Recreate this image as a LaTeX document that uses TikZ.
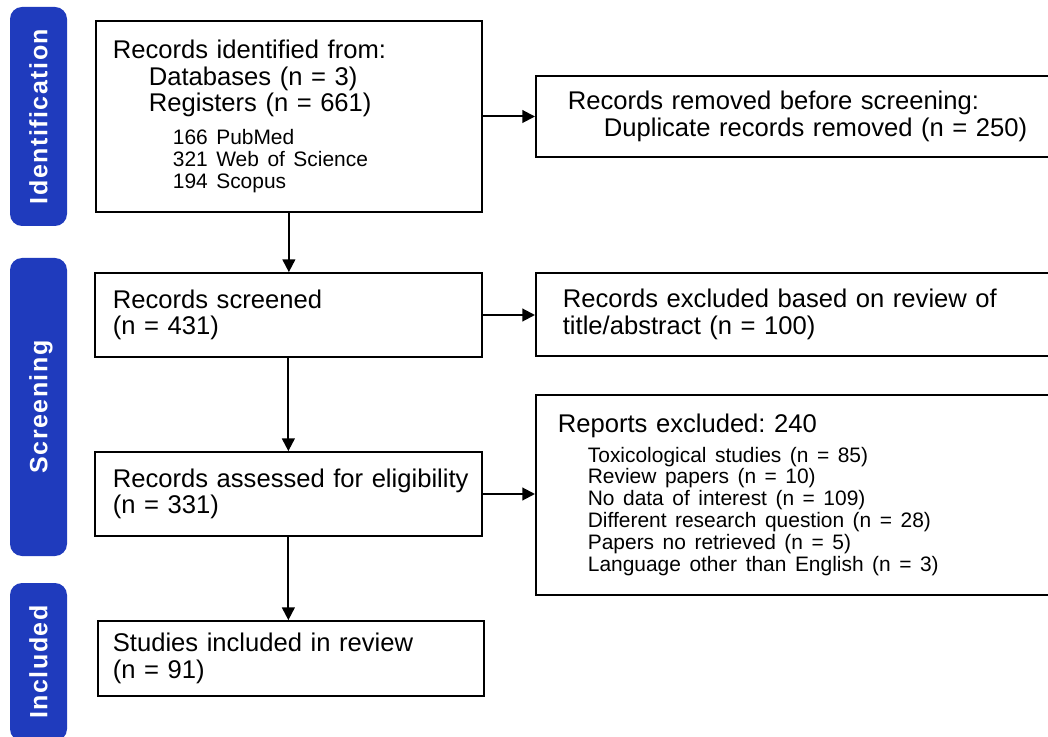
\documentclass[tikz,border=0pt]{standalone}
\usepackage{fontspec}
\setmainfont{Liberation Sans}
\newfontfamily\stagefont{Liberation Sans}[LetterSpace=6]
\usetikzlibrary{arrows.meta}
\definecolor{stageblue}{RGB}{31,59,189}
\newcommand{\bigtxt}{\fontsize{19.2}{19.9}\selectfont}
\newcommand{\smalltxt}{\fontsize{15.7}{16.4}\selectfont}

\begin{document}
\begin{tikzpicture}[x=0.75pt, y=-0.75pt,
		box/.style={draw, line width=1.3pt, anchor=west, align=left, font=\bigtxt\frenchspacing},
		stage/.style={fill=stageblue, rounded corners=9pt, rotate=90, minimum height=42.75pt, text=white, font=\stagefont\bfseries\fontsize{18.75}{20}\selectfont, text height=13.4pt, text depth=0pt},
		flow/.style={line width=1.5pt, -{Triangle[length=9.5pt,width=9.5pt]}}]
	\useasboundingbox (0,0) rectangle (1048,737);
	% STAGES
	\node (idBar) at (38.5,116.5) [stage, minimum width=164.25pt] {Identification};
	\node (scrBar) at (38.5,407) [stage, minimum width=223.5pt] {Screening};
	\node (incBar) at (38.5,662) [stage, minimum width=118.5pt] {Included};
	% LEFT COLUMN
	\node (ident) at (95,116.5) [box, inner xsep=12.75pt, text width=264pt, minimum height=143.25pt] {Records identified from:\\
		\hspace*{27pt}Databases (n = 3)\\
		\hspace*{27pt}Registers (n = 661)\par
		\vspace{8pt}{\smalltxt\hspace*{45pt}166 PubMed\\
		\hspace*{45pt}321 Web of Science\\
		\hspace*{45pt}194 Scopus\par}};
	\node (screened) at (94,315) [box, inner xsep=13.5pt, text width=263.25pt, minimum height=63pt] {Records screened\\(n = 431)};
	\node (assessed) at (94,494) [box, inner xsep=13.5pt, text width=263.25pt, minimum height=63pt] {\mbox{Records assessed for eligibility}\\(n = 331)};
	\node (included) at (97,658.5) [box, inner xsep=11.25pt, text width=267pt, minimum height=56.25pt] {Studies included in review\\(n = 91)};
	% RIGHT COLUMN
	\node (removed) at (535,116.5) [box, inner xsep=24pt, text width=430pt, minimum height=60.75pt] {Records removed before screening:\\
		\hspace*{27pt}Duplicate records removed (n = 250)};
	\node (excluded) at (535,314.5) [box, inner xsep=20.25pt, text width=430pt, minimum height=62.25pt] {Records excluded based on review of\\title/abstract (n = 100)};
	\node (reports) at (535,495) [box, inner xsep=16.5pt, text width=430pt, minimum height=150pt] {Reports excluded: 240\par
		\vspace{5.5pt}{\smalltxt\hspace*{22.5pt}Toxicological studies (n = 85)\\
		\hspace*{22.5pt}Review papers (n = 10)\\
		\hspace*{22.5pt}No data of interest (n = 109)\\
		\hspace*{22.5pt}Different research question (n = 28)\\
		\hspace*{22.5pt}Papers no retrieved (n = 5)\\
		\hspace*{22.5pt}Language other than English (n = 3)\par}};
	% ARROWS
	\draw[flow] (ident.east) -- (removed.west);
	\draw[flow] (ident.south) -- (ident.south |- screened.north);
	\draw[flow] (screened.east) -- (screened.east -| excluded.west);
	\draw[flow] (screened.south) -- (screened.south |- assessed.north);
	\draw[flow] (assessed.east) -- (assessed.east -| reports.west);
	\draw[flow] (assessed.south) -- (assessed.south |- included.north);
\end{tikzpicture}
\end{document}
